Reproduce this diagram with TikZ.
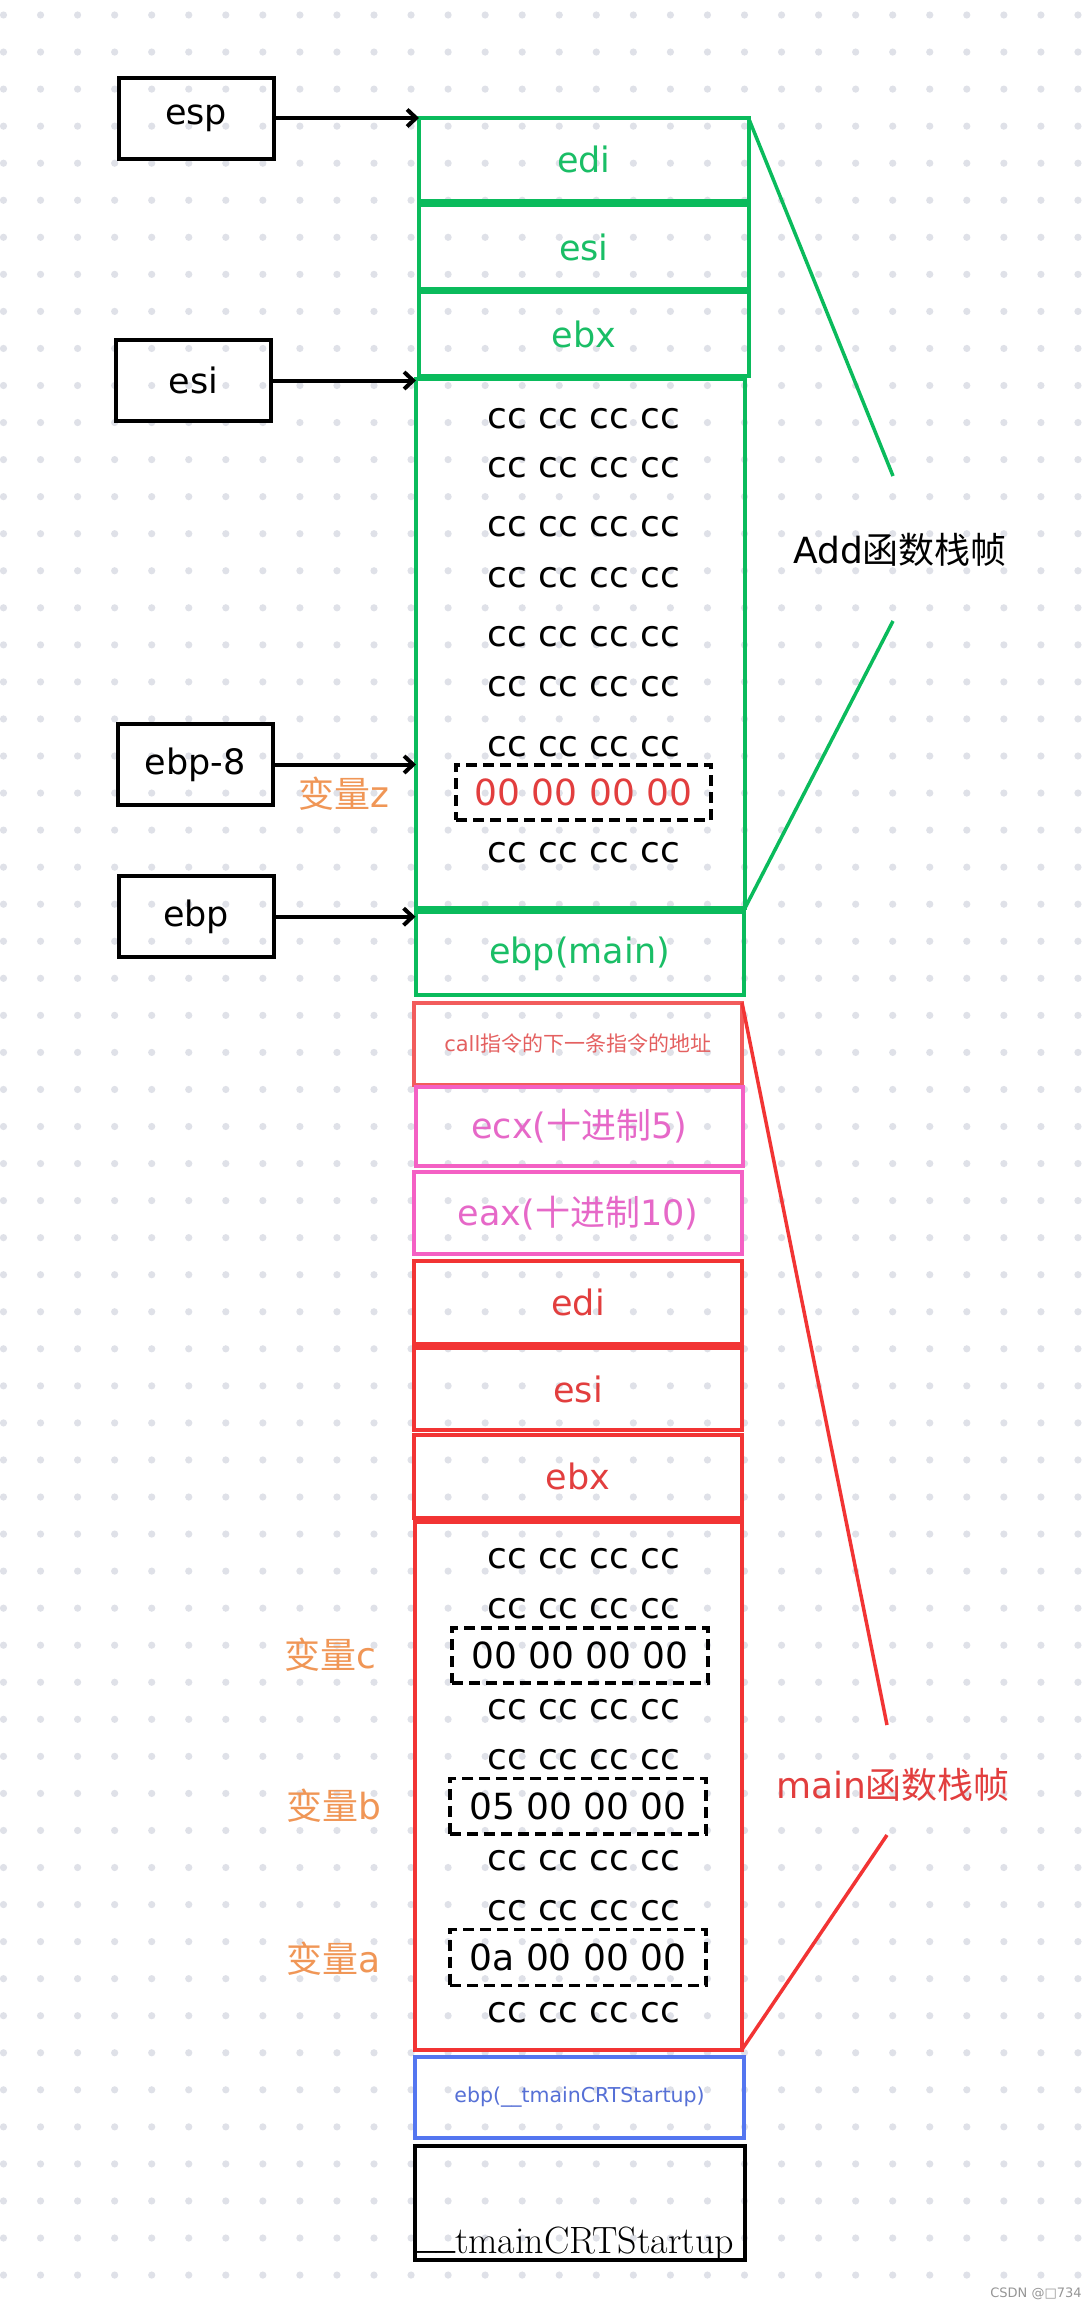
\documentclass[tikz,border=0pt]{standalone}
\usepackage{fontspec}
\setsansfont{DejaVu Sans}
\newfontfamily\cjk{Noto Sans CJK SC}
\newfontfamily\libser{Liberation Serif}
\usetikzlibrary{arrows.meta}
\definecolor{dotc}{RGB}{223,225,232}
\definecolor{gline}{RGB}{10,187,92}
\definecolor{gtext}{RGB}{26,190,102}
\definecolor{rline}{RGB}{242,52,52}
\definecolor{rtext}{RGB}{226,62,62}
\definecolor{cline}{RGB}{242,92,92}
\definecolor{ctext}{RGB}{228,96,96}
\definecolor{pline}{RGB}{244,96,196}
\definecolor{ptext}{RGB}{230,104,200}
\definecolor{bline}{RGB}{84,118,240}
\definecolor{btext}{RGB}{86,112,214}
\definecolor{otext}{RGB}{240,150,86}
\definecolor{wm}{RGB}{150,150,150}
\newcommand\fsz[1]{\fontsize{#1}{#1}\selectfont}
\begin{document}
\begin{tikzpicture}[x=1pt,y=-1pt,
  every node/.style={inner sep=0pt, outer sep=0pt},
  reg/.style={draw=black, line width=4pt, minimum width=155pt, minimum height=81pt, font=\sffamily\fsz{35}},
  stk/.style={line width=4pt, font=\sffamily\fsz{35}},
  gstk/.style={stk, draw=gline, text=gtext},
  rstk/.style={stk, draw=rline, text=rtext},
  pstk/.style={stk, draw=pline, text=ptext},
  ccrow/.style={font=\sffamily\fsz{36}},
  varbox/.style={draw=black, line width=3.5pt, dash pattern=on 11pt off 6pt, font=\sffamily\fsz{36}},
  vartag/.style={font=\sffamily\fsz{36}, text=otext},
  ptr/.style={line width=4pt, -{Straight Barb[length=9pt,width=17pt]}},
  frameline/.style={line width=3.5pt},
]
\useasboundingbox (0,0) rectangle (1083,2308);
\fill[white] (0,0) rectangle (1083,2308);
% dotted background
\foreach \i in {0,...,29}{
  \foreach \j in {0,...,61}{
    \fill[dotc] ({3.5+37.05*\i},{15+37.05*\j}) circle (3.6pt);
  }
}
% register boxes
\node[reg] (esp) at (196.2,118) {esp};
\node[reg] (esiR) at (193.5,380.5) {esi};
\node[reg] (ebp8) at (195.2,764.5) {ebp-8};
\node[reg] (ebpR) at (196.2,916.7) {ebp};
% Add frame (green)
\node[gstk, minimum width=329.5pt, minimum height=83pt] (gedi) at (583.75,159.5) {edi};
\node[gstk, minimum width=329.5pt, minimum height=84pt] (gesi) at (583.75,247) {esi};
\node[gstk, minimum width=329.5pt, minimum height=84pt] (gebx) at (583.75,334) {ebx};
\node[gstk, minimum width=329pt, minimum height=529pt] (gcc) at (580.5,643.5) {};
\node[gstk, minimum width=328pt, minimum height=83pt] (gmain) at (579.5,953.5) {ebp(main)};
\node[ccrow] (g1) at (584,419) {cc cc cc cc};
\node[ccrow] (g2) at (584,468) {cc cc cc cc};
\node[ccrow] (g3) at (584,527) {cc cc cc cc};
\node[ccrow] (g4) at (584,578) {cc cc cc cc};
\node[ccrow] (g5) at (584,637) {cc cc cc cc};
\node[ccrow] (g6) at (584,687) {cc cc cc cc};
\node[ccrow] (g7) at (584,747) {cc cc cc cc};
\node[varbox, minimum width=255pt, minimum height=55pt, text=rtext] (vz) at (583.5,792.5) {00 00 00 00};
\node[ccrow] (g8) at (584,853) {cc cc cc cc};
\node[vartag] (tz) at (344,794) {{\cjk 变量}z};
% main frame
\node[stk, draw=cline, text=ctext, font=\sffamily\fsz{21}, minimum width=328.3pt, minimum height=82.2pt] (call) at (577.85,1043.6) {call{\cjk 指令的下一条指令的地址}};
\node[pstk, minimum width=327pt, minimum height=78.5pt] (ecx) at (579.5,1126.25) {ecx({\cjk 十进制}5)};
\node[pstk, minimum width=328pt, minimum height=82pt] (eax) at (578,1213) {eax({\cjk 十进制}10)};
\node[rstk, minimum width=328pt, minimum height=83pt] (redi) at (578,1302.5) {edi};
\node[rstk, minimum width=328pt, minimum height=82pt] (resi) at (578,1389) {esi};
\node[rstk, minimum width=328pt, minimum height=83.5pt] (rebx) at (578,1476.25) {ebx};
\node[rstk, minimum width=327pt, minimum height=528pt] (rcc) at (578.5,1785.5) {};
\node[ccrow] (m1) at (584,1559) {cc cc cc cc};
\node[ccrow] (m2) at (584,1609) {cc cc cc cc};
\node[varbox, minimum width=256pt, minimum height=55pt] (vc) at (580,1655.5) {00 00 00 00};
\node[ccrow] (m3) at (584,1710) {cc cc cc cc};
\node[ccrow] (m4) at (584,1760) {cc cc cc cc};
\node[varbox, minimum width=256pt, minimum height=55.4pt] (vb) at (578,1806.3) {05 00 00 00};
\node[ccrow] (m5) at (584,1861) {cc cc cc cc};
\node[ccrow] (m6) at (584,1911) {cc cc cc cc};
\node[varbox, minimum width=256pt, minimum height=56pt] (va) at (578,1957.6) {0a 00 00 00};
\node[ccrow] (m7) at (584,2012.5) {cc cc cc cc};
\node[vartag] (tc) at (330,1655) {{\cjk 变量}c};
\node[vartag] (tb) at (334,1806) {{\cjk 变量}b};
\node[vartag] (ta) at (334,1959) {{\cjk 变量}a};
% startup
\node[stk, draw=bline, text=btext, font=\sffamily\fsz{20.5}, minimum width=329pt, minimum height=81pt] (crtebp) at (579.5,2097.5) {ebp(\_\_tmainCRTStartup)};
\node[stk, draw=black, minimum width=330.3pt, minimum height=113.7pt] (crt) at (580.15,2202.85) {};
\node[anchor=base west, font=\rmfamily\fsz{38}] (crttxt) at (417,2253) {\raisebox{5pt}{\libser\_\_}tmainCRTStartup};
% pointers
\draw[ptr] (esp.east) -- (gedi.north west);
\draw[ptr] (esiR.east) -- (esiR.east -| gcc.west);
\draw[ptr] (ebp8.east) -- (ebp8.east -| gcc.west);
\draw[ptr] (ebpR.east) -- (ebpR.east -| gmain.west);
% frame brackets
\coordinate (gA) at (893,476);
\coordinate (gB) at (893,621);
\draw[gline, frameline] (gedi.north east) -- (gA);
\draw[gline, frameline] (gB) -- (gcc.south east);
\node[font=\sffamily\fsz{36}] (addlbl) at (900,550) {Add{\cjk 函数栈帧}};
\coordinate (rA) at (887,1725);
\coordinate (rB) at (887,1835);
\draw[rline, frameline] (call.north east) -- (rA);
\draw[rline, frameline] (rB) -- (rcc.south east);
\node[font=\sffamily\fsz{36}, text=rtext] (mainlbl) at (893,1785) {main{\cjk 函数栈帧}};
% watermark
\node[font=\sffamily\fsz{13}, text=wm] (wmk) at (1036,2294) {CSDN @□734};
\end{tikzpicture}
\end{document}
